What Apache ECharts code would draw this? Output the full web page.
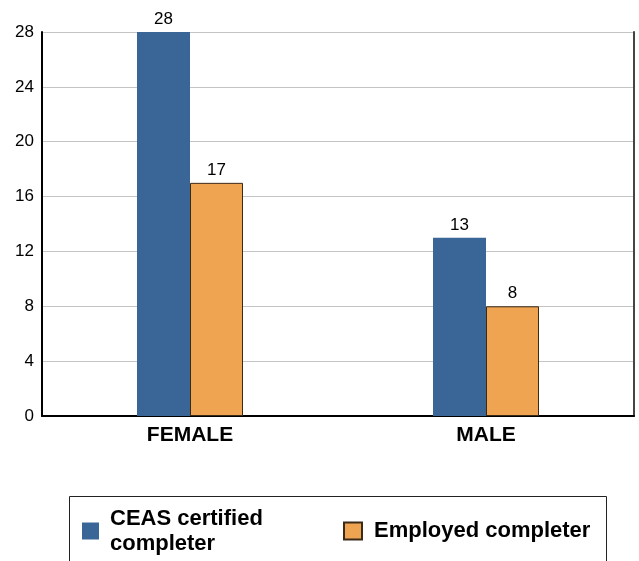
<!DOCTYPE html>
<html>
<head>
<meta charset="utf-8">
<script src="https://cdn.jsdelivr.net/npm/echarts@6/dist/echarts.min.js"></script>
<style>
html,body{margin:0;padding:0;background:#fff;}
#c{width:639px;height:561px;}
</style>
</head>
<body>
<div id="c"></div>
<script>
const categories = ['FEMALE', 'MALE'];
const ceasCertified = [28, 13];
const employedCompleter = [17, 8];
const yTicks = [0, 4, 8, 12, 16, 20, 24, 28];
const seriesNames = ['CEAS certified\ncompleter', 'Employed completer'];

const chart = echarts.init(document.getElementById('c'), null, {renderer: 'canvas'});
const font = 'Liberation Sans, Arial, sans-serif';
const option = {
  animation: false,
  backgroundColor: '#fff',
  grid: {left: 42, right: 5, top: 32, bottom: 145, containLabel: false},
  xAxis: {
    type: 'category',
    data: categories,
    axisLine: {show: true, lineStyle: {color: '#000', width: 2}},
    axisTick: {show: false},
    axisLabel: {color: '#000', fontSize: 21, fontWeight: 'bold', fontFamily: font, margin: 9}
  },
  yAxis: [{
    type: 'value',
    min: yTicks[0],
    max: yTicks[yTicks.length - 1],
    interval: 4,
    axisLine: {show: true, lineStyle: {color: '#000', width: 2}},
    axisTick: {show: false},
    axisLabel: {color: '#000', fontSize: 17, fontFamily: font, margin: 8},
    splitLine: {show: true, lineStyle: {color: '#c4c4c4', width: 1}}
  }, {
    type: 'value',
    position: 'right',
    min: yTicks[0],
    max: yTicks[yTicks.length - 1],
    interval: 4,
    axisLine: {show: true, lineStyle: {color: '#444', width: 2}},
    axisTick: {show: false},
    axisLabel: {show: false},
    splitLine: {show: false}
  }],
  legend: [{
    data: [seriesNames[0]],
    left: 77, top: 501,
    orient: 'horizontal',
    itemWidth: 17, itemHeight: 17,
    icon: 'rect',
    textStyle: {color: '#000', fontSize: 22, fontWeight: 'bold', fontFamily: font, lineHeight: 25, padding: [0,0,0,6]}
  }, {
    data: [seriesNames[1]],
    left: 338, top: 515,
    orient: 'horizontal',
    itemWidth: 18, itemHeight: 17,
    icon: 'rect',
    textStyle: {color: '#000', fontSize: 22, fontWeight: 'bold', fontFamily: font, padding: [0,0,0,7]}
  }],
  graphic: [{
    type: 'rect',
    shape: {x: 69.5, y: 496.5, width: 537, height: 80},
    style: {fill: 'none', stroke: '#222', lineWidth: 1},
    silent: true
  }],
  series: [{
    name: seriesNames[0],
    type: 'bar',
    data: ceasCertified,
    barWidth: 53,
    barGap: '0%',
    itemStyle: {color: '#3A6597'},
    label: {show: true, position: 'top', distance: 4, color: '#000', fontSize: 17, fontFamily: font}
  }, {
    name: seriesNames[1],
    type: 'bar',
    data: employedCompleter,
    barWidth: 53,
    barGap: '0%',
    itemStyle: {color: '#EFA452', borderColor: '#3a2a18', borderWidth: 1},
    label: {show: true, position: 'top', distance: 4, color: '#000', fontSize: 17, fontFamily: font}
  }]
};
chart.setOption(option);
</script>
</body>
</html>
